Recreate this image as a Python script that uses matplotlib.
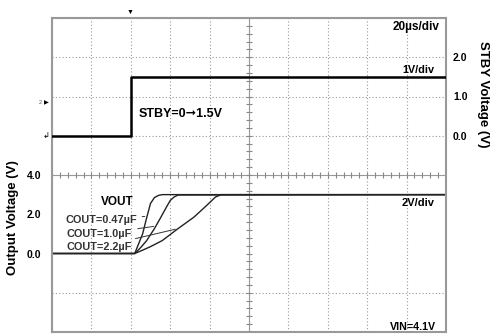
import matplotlib
matplotlib.use('Agg')
import matplotlib.pyplot as plt

plt.rcParams['font.family'] = ['Liberation Sans', 'DejaVu Sans']

# STBY step (time in us, volts)
stby_t = [0, 40, 40, 200]
stby_v = [0, 0, 1.5, 1.5]

# VOUT rise for each output capacitor
t_047 = [0, 42, 44, 46, 48, 50, 52, 54, 56, 200]
v_047 = [0, 0, 0.5, 1.0, 1.8, 2.55, 2.85, 2.96, 3.0, 3.0]
t_10 = [0, 42, 45, 48, 52, 55, 58, 60, 62, 64, 200]
v_10 = [0, 0, 0.3, 0.65, 1.27, 1.8, 2.35, 2.7, 2.88, 2.98, 3.0]
t_22 = [0, 42, 46, 50, 56, 64, 72, 78, 83, 86, 200]
v_22 = [0, 0, 0.17, 0.35, 0.66, 1.27, 1.85, 2.4, 2.88, 3.0, 3.0]

cap_labels = ['COUT=0.47µF', 'COUT=1.0µF', 'COUT=2.2µF']
left_ticks = [0, 2, 4]
right_ticks = [0, 1, 2]

fig = plt.figure(figsize=(4.93, 3.35), dpi=100)
ax = fig.add_axes([52/493, 3/335, 394/493, 314/335])
ax.set_xlim(0, 200)
ax.set_ylim(-4, 12)

# scope graticule
ax.set_xticks(range(0, 201, 20), minor=True)
ax.set_yticks(range(-4, 13, 2), minor=True)
ax.grid(which='minor', color='#999999', linestyle=(0, (1, 2)), linewidth=0.8)
ax.tick_params(which='minor', length=0)
ax.axvline(100, color='#999999', lw=0.8)
ax.axhline(4, color='#999999', lw=0.8)
ax.plot([100] * 41, [-4 + 0.4 * i for i in range(41)], ls='none', marker='_',
        ms=4, color='#888888', mew=0.8)
ax.plot([4 * i for i in range(51)], [4] * 51, ls='none', marker='|',
        ms=4, color='#888888', mew=0.8)
for s in ax.spines.values():
    s.set_color('#999999')
    s.set_linewidth(1.5)

ax.set_xticks([])
ax.set_yticks(left_ticks)
ax.set_yticklabels(['%.1f' % v for v in left_ticks], fontsize=7.5, fontweight='bold')
ax.tick_params(axis='y', length=0, pad=8)

ax2 = ax.twinx()
ax2.set_ylim(-5, 3)
ax2.set_yticks(right_ticks)
ax2.set_yticklabels(['%.1f' % v for v in right_ticks], fontsize=7.5, fontweight='bold')
ax2.tick_params(axis='y', length=0, pad=5)
for s in ax2.spines.values():
    s.set_visible(False)

ax2.plot(stby_t, stby_v, color='black', lw=1.8)
ax.plot(t_047, v_047, color='#222222', lw=1)
ax.plot(t_10, v_10, color='#222222', lw=1)
ax.plot(t_22, v_22, color='#222222', lw=1)

# capacitor labels with leaders
ax.annotate(cap_labels[0], xy=(48.5, 1.9), xytext=(6.6, 1.71), fontsize=7.8,
            fontweight='bold', color='#333333', va='center',
            arrowprops=dict(arrowstyle='-', color='#333333', lw=0.7))
ax.annotate(cap_labels[1], xy=(53, 1.4), xytext=(7.6, 0.99), fontsize=7.8,
            fontweight='bold', color='#333333', va='center',
            arrowprops=dict(arrowstyle='-', color='#333333', lw=0.7))
ax.annotate(cap_labels[2], xy=(64, 1.27), xytext=(7.6, 0.33), fontsize=7.8,
            fontweight='bold', color='#333333', va='center',
            arrowprops=dict(arrowstyle='-', color='#333333', lw=0.7))

ax.text(33, 2.6, 'VOUT', fontsize=8.5, fontweight='bold', ha='center', va='center')
ax.text(196.5, 11.54, '20µs/div', fontsize=8.5, fontweight='bold', ha='right', va='center')
ax.text(194, 9.35, '1V/div', fontsize=7.8, fontweight='bold', ha='right', va='center')
ax.text(44, 7.1, 'STBY=0➞1.5V', fontsize=9, fontweight='bold', ha='left', va='center')
ax.text(194, 2.55, '2V/div', fontsize=8, fontweight='bold', ha='right', va='center')
ax.text(195, -3.75, 'VIN=4.1V', fontsize=7.7, fontweight='bold', ha='right', va='center')

# channel / trigger markers
fig.text(130/493, 1 - 12/335, '▼', fontsize=5, ha='center', va='center')
fig.text(46/493, 1 - 103/335, '▶', fontsize=4.5, ha='center', va='center')
fig.text(40/493, 1 - 102/335, '2', fontsize=4, ha='center', va='center', color='#555555')
fig.text(46/493, 1 - 137/335, '↲', fontsize=6, ha='center', va='center')

fig.text(13/493, 1 - 218/335, 'Output Voltage (V)', rotation=90, fontsize=9.5,
         fontweight='bold', ha='center', va='center')
fig.text(483/493, 1 - 94/335, 'STBY Voltage (V)', rotation=270, fontsize=9.5,
         fontweight='bold', ha='center', va='center')

fig.savefig('out.png', dpi=100)
